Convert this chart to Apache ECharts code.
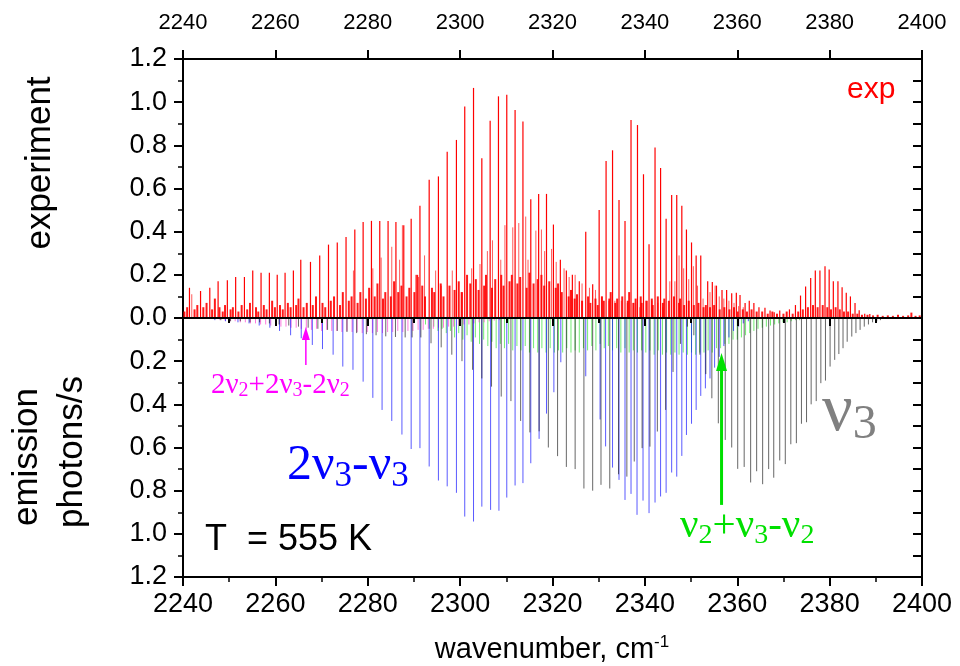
<!DOCTYPE html>
<html><head><meta charset="utf-8">
<script src="https://cdn.jsdelivr.net/npm/echarts@6/dist/echarts.min.js"></script>
<style>html,body{margin:0;padding:0;background:#fff}#main{width:960px;height:666px}</style>
</head><body><div id="main"></div>
<script>
// ---------- data (wavenumber cm^-1, intensity) ----------
const expStrong = [[2241.4,0.14],[2243.8,0.125],[2245.8,0.14],[2247.6,0.17],[2249.6,0.175],[2251.4,0.19],[2253.3,0.19],[2255.1,0.22],[2256.9,0.21],[2258.7,0.21],[2260.4,0.20],[2262.1,0.21],[2263.9,0.22],[2265.5,0.27],[2267.6,0.26],[2269.6,0.29],[2271.5,0.34],[2273.4,0.35],[2275.3,0.375],[2277.2,0.41],[2279.0,0.445],[2280.8,0.45],[2282.6,0.45],[2284.4,0.45],[2286.1,0.445],[2287.8,0.43],[2289.4,0.46],[2291.3,0.52],[2293.3,0.64],[2295.3,0.656],[2297.2,0.77],[2299.2,0.825],[2301.0,0.98],[2302.9,1.066],[2304.7,0.74],[2306.5,0.914],[2308.3,1.027],[2310.1,1.034],[2311.9,0.964],[2313.6,0.91],[2315.3,0.55],[2317.0,0.575],[2318.7,0.575],[2320.2,0.433],[2321.7,0.27],[2323.0,0.22],[2324.3,0.20],[2325.8,0.17],[2327.2,0.40],[2328.7,0.156],[2330.1,0.50],[2331.6,0.727],[2333.0,0.777],[2334.4,0.547],[2335.7,0.45],[2337.0,0.917],[2338.4,0.894],[2339.7,0.666],[2340.9,0.342],[2342.2,0.79],[2343.4,0.695],[2344.6,0.46],[2345.8,0.57],[2346.9,0.57],[2348.0,0.52],[2349.0,0.41],[2350.1,0.35],[2351.1,0.29],[2352.1,0.29],[2353.6,0.17],[2354.6,0.167],[2355.5,0.15],[2356.7,0.13],[2357.7,0.13],[2358.8,0.115],[2359.8,0.117],[2360.6,0.107],[2361.7,0.07],[2362.6,0.08],[2363.6,0.07],[2364.7,0.05],[2366.0,0.048],[2367.1,0.035],[2368.0,0.027],[2369.2,0.035],[2371.3,0.04],[2372.6,0.06],[2373.7,0.104],[2374.8,0.146],[2375.9,0.185],[2376.9,0.22],[2377.9,0.22],[2379.0,0.24],[2379.9,0.225],[2380.8,0.17],[2381.8,0.17],[2382.7,0.143],[2383.6,0.117],[2384.5,0.10],[2385.5,0.07],[2386.4,0.036],[2387.6,0.02],[2388.7,0.018]];

const expWeak = [[2241.9,0.11],[2276.9,0.22],[2281.1,0.23],[2282.9,0.28],[2285.2,0.33],[2286.9,0.27],[2287.5,0.43],[2290.4,0.2],[2291.0,0.19],[2292.3,0.29],[2294.7,0.22],[2295.9,0.15],[2298.3,0.22],[2300.2,0.12],[2302.5,0.23],[2304.3,0.25],[2305.9,0.31],[2307.0,0.36],[2308.8,0.27],[2309.7,0.43],[2311.4,0.42],[2312.7,0.44],[2314.2,0.47],[2314.7,0.27],[2316.4,0.405],[2317.6,0.41],[2318.3,0.31],[2319.8,0.32],[2320.8,0.26],[2322.5,0.23],[2323.6,0.19],[2324.9,0.2],[2326.4,0.16],[2328.0,0.14],[2329.3,0.13],[2330.7,0.1],[2332.2,0.08],[2333.5,0.08],[2334.9,0.08],[2336.2,0.07],[2337.6,0.07],[2338.9,0.05],[2340.2,0.08],[2341.5,0.08],[2342.8,0.07],[2343.9,0.05],[2345.4,0.17],[2346.5,0.17],[2347.4,0.29],[2348.4,0.23],[2349.5,0.18],[2350.5,0.24],[2351.4,0.15],[2352.6,0.09],[2354.1,0.12],[2355.2,0.15],[2356.1,0.1],[2357.1,0.09],[2358.2,0.08],[2359.3,0.07],[2360.3,0.055],[2361.3,0.05]];

const expGrass = [[2240.3,0.03],[2240.9,0.05],[2242.5,0.04],[2243.1,0.06],[2244.4,0.05],[2245.1,0.07],[2246.3,0.04],[2246.9,0.09],[2247.9,0.05],[2248.6,0.03],[2249.1,0.06],[2250.3,0.04],[2250.8,0.05],[2252.0,0.03],[2252.7,0.06],[2253.9,0.04],[2254.5,0.07],[2255.8,0.05],[2256.3,0.03],[2257.5,0.06],[2258.1,0.04],[2259.3,0.08],[2259.9,0.05],[2261.0,0.06],[2261.6,0.04],[2262.7,0.07],[2263.3,0.05],[2264.5,0.06],[2265.0,0.09],[2266.1,0.05],[2266.8,0.07],[2268.1,0.06],[2268.8,0.1],[2270.2,0.07],[2270.8,0.05],[2272.0,0.08],[2272.7,0.1],[2274.0,0.06],[2274.6,0.12],[2275.9,0.08],[2276.5,0.1],[2277.8,0.07],[2278.4,0.12],[2279.6,0.09],[2280.3,0.14],[2281.5,0.1],[2282.1,0.16],[2283.3,0.09],[2283.8,0.12],[2285.0,0.1],[2285.7,0.17],[2286.6,0.12],[2287.3,0.15],[2288.4,0.1],[2289.0,0.14],[2290.1,0.12],[2290.7,0.2],[2291.8,0.15],[2292.4,0.1],[2293.9,0.14],[2294.4,0.12],[2295.8,0.16],[2296.4,0.1],[2297.7,0.15],[2298.8,0.13],[2299.7,0.17],[2300.4,0.12],[2301.5,0.2],[2302.2,0.16],[2303.4,0.18],[2304.0,0.13],[2305.2,0.15],[2305.6,0.2],[2306.9,0.14],[2307.6,0.18],[2308.9,0.2],[2309.4,0.15],[2310.7,0.17],[2311.2,0.2],[2312.4,0.16],[2313.0,0.19],[2314.4,0.14],[2315.0,0.21],[2315.9,0.16],[2316.8,0.18],[2317.6,0.2],[2318.2,0.15],[2319.3,0.17],[2320.7,0.14],[2321.2,0.16],[2322.0,0.12],[2323.5,0.1],[2324.0,0.13],[2324.8,0.09],[2325.3,0.11],[2326.4,0.08],[2327.7,0.1],[2328.2,0.07],[2329.3,0.09],[2329.8,0.06],[2330.7,0.1],[2331.1,0.08],[2332.3,0.09],[2332.6,0.12],[2333.6,0.07],[2334.0,0.09],[2335.1,0.1],[2336.3,0.08],[2336.6,0.12],[2337.5,0.07],[2338.0,0.09],[2339.1,0.1],[2339.3,0.07],[2340.4,0.08],[2341.5,0.09],[2341.7,0.06],[2342.8,0.1],[2343.9,0.07],[2344.2,0.09],[2345.2,0.08],[2346.3,0.1],[2347.4,0.07],[2347.6,0.09],[2348.5,0.06],[2349.5,0.08],[2350.6,0.06],[2351.6,0.07],[2352.7,0.05],[2353.2,0.06],[2354.1,0.05],[2355.0,0.06],[2356.2,0.04],[2357.2,0.05],[2358.3,0.04],[2359.3,0.05],[2360.1,0.03],[2361.2,0.04],[2362.1,0.03],[2363.1,0.04],[2364.2,0.03],[2365.4,0.03],[2366.6,0.02],[2367.6,0.03],[2368.6,0.02],[2370.0,0.02],[2370.7,0.03],[2372.0,0.02],[2373.2,0.03],[2374.2,0.04],[2375.3,0.05],[2376.4,0.06],[2377.4,0.05],[2378.5,0.06],[2379.5,0.05],[2380.3,0.04],[2381.3,0.05],[2382.2,0.04],[2383.1,0.03],[2384.0,0.03],[2385.0,0.02],[2386.0,0.02],[2387.0,0.015],[2388.2,0.015],[2389.4,0.012],[2390.4,0.015],[2391.5,0.01],[2392.6,0.012],[2393.7,0.01],[2394.8,0.015],[2395.9,0.01],[2397.0,0.012],[2397.7,0.025],[2398.6,0.01],[2399.5,0.012]];

// calculated emission (plotted downward)
const calcBlue = [[2246.9,0.01],[2249.2,0.015],[2251.9,0.02],[2254.3,0.025],[2256.5,0.035],[2258.8,0.045],[2260.9,0.06],[2263.3,0.08],[2265.6,0.094],[2268.0,0.125],[2270.2,0.144],[2272.5,0.17],[2274.6,0.225],[2276.8,0.24],[2279.0,0.295],[2281.1,0.37],[2283.1,0.426],[2285.2,0.477],[2287.4,0.54],[2289.4,0.607],[2291.3,0.603],[2293.3,0.688],[2295.3,0.753],[2297.2,0.78],[2299.2,0.81],[2301.0,0.92],[2302.9,0.943],[2304.7,0.874],[2306.6,0.889],[2308.4,0.893],[2310.1,0.832],[2311.9,0.776],[2313.6,0.765],[2315.3,0.673],[2317.1,0.56],[2318.7,0.443],[2320.3,0.344],[2321.8,0.205],[2327.2,0.27],[2330.3,0.47],[2331.5,0.595],[2333.0,0.693],[2334.4,0.75],[2335.7,0.843],[2337.0,0.815],[2338.3,0.912],[2339.6,0.846],[2340.9,0.904],[2342.2,0.855],[2343.4,0.827],[2344.6,0.81],[2345.8,0.716],[2346.9,0.735],[2348.0,0.639],[2349.0,0.542],[2350.1,0.49],[2351.1,0.426],[2352.1,0.361],[2353.1,0.326],[2354.1,0.28],[2355.1,0.23],[2356.1,0.18],[2357.1,0.13],[2358.2,0.09],[2359.2,0.06],[2360.3,0.04],[2361.3,0.025],[2362.4,0.015]];

const calcBlack = [[2248.2,0.01],[2250.3,0.015],[2252.4,0.015],[2254.5,0.02],[2256.6,0.02],[2258.7,0.025],[2260.8,0.03],[2262.9,0.035],[2265.0,0.04],[2267.1,0.045],[2269.2,0.05],[2271.3,0.055],[2273.4,0.06],[2275.5,0.065],[2277.6,0.07],[2279.7,0.075],[2281.8,0.08],[2283.9,0.085],[2286.0,0.088],[2288.1,0.09],[2289.6,0.09],[2291.5,0.09],[2293.7,0.117],[2295.9,0.136],[2298.2,0.17],[2300.4,0.2],[2302.7,0.24],[2304.7,0.28],[2306.8,0.318],[2308.9,0.364],[2311.0,0.385],[2313.1,0.477],[2315.1,0.53],[2317.1,0.525],[2319.1,0.6],[2321.1,0.64],[2323.0,0.69],[2324.9,0.70],[2326.8,0.79],[2328.7,0.80],[2330.5,0.773],[2332.4,0.79],[2334.3,0.724],[2336.1,0.735],[2337.7,0.665],[2339.4,0.603],[2341.1,0.596],[2342.7,0.526],[2344.5,0.426],[2346.1,0.25],[2347.7,0.12],[2349.2,0.04],[2350.6,0.08],[2351.9,0.17],[2353.2,0.26],[2354.5,0.372],[2355.9,0.488],[2357.4,0.565],[2358.8,0.60],[2360.1,0.699],[2361.5,0.69],[2362.9,0.762],[2364.2,0.71],[2365.5,0.77],[2366.8,0.70],[2367.9,0.74],[2369.2,0.66],[2370.4,0.677],[2371.6,0.585],[2372.8,0.58],[2373.9,0.49],[2375.0,0.483],[2376.0,0.40],[2377.1,0.385],[2378.1,0.302],[2379.1,0.29],[2380.1,0.225],[2381.1,0.194],[2382.0,0.167],[2382.9,0.14],[2383.8,0.11],[2384.8,0.086],[2385.7,0.07],[2386.6,0.055],[2387.5,0.04],[2388.4,0.03],[2389.3,0.02],[2390.2,0.015],[2391.0,0.01]];

const calcGreen = [[2292.5,0.03],[2293.4,0.05],[2294.3,0.04],[2295.2,0.06],[2296.1,0.05],[2297.0,0.07],[2297.9,0.06],[2298.8,0.09],[2299.7,0.07],[2300.6,0.1],[2301.5,0.08],[2302.4,0.11],[2303.3,0.09],[2304.2,0.12],[2305.1,0.1],[2306.0,0.13],[2306.9,0.11],[2307.8,0.14],[2308.7,0.12],[2309.6,0.14],[2310.5,0.12],[2311.4,0.15],[2312.3,0.13],[2313.2,0.15],[2314.1,0.13],[2315.0,0.16],[2315.9,0.14],[2316.8,0.16],[2317.7,0.14],[2318.6,0.16],[2319.5,0.14],[2320.4,0.16],[2321.3,0.15],[2322.2,0.16],[2323.1,0.14],[2324.0,0.16],[2324.9,0.15],[2325.8,0.16],[2326.7,0.14],[2327.6,0.15],[2328.5,0.13],[2329.4,0.15],[2330.3,0.12],[2331.2,0.14],[2332.1,0.13],[2333.0,0.15],[2333.9,0.14],[2334.8,0.16],[2335.7,0.14],[2336.6,0.16],[2337.5,0.15],[2338.4,0.16],[2339.3,0.15],[2340.2,0.16],[2341.1,0.15],[2342.0,0.17],[2342.9,0.15],[2343.8,0.17],[2344.7,0.16],[2345.6,0.17],[2346.5,0.16],[2347.4,0.17],[2348.3,0.16],[2349.2,0.17],[2350.1,0.16],[2351.0,0.17],[2351.9,0.16],[2352.8,0.16],[2353.7,0.15],[2354.6,0.16],[2355.5,0.14],[2356.4,0.14],[2357.3,0.12],[2358.2,0.12],[2359.1,0.1],[2360.0,0.1],[2360.9,0.09],[2361.8,0.08],[2362.7,0.07],[2363.6,0.06],[2364.5,0.05],[2365.4,0.045],[2366.3,0.04],[2367.2,0.035],[2368.1,0.03],[2369.0,0.025],[2369.9,0.02],[2370.8,0.02],[2371.7,0.015],[2372.6,0.01],[2373.5,0.01]];

const calcMagenta = [[2248.0,0.01],[2249.1,0.012],[2250.2,0.015],[2251.3,0.015],[2252.4,0.02],[2253.5,0.02],[2254.6,0.025],[2255.7,0.025],[2256.8,0.03],[2257.9,0.03],[2259.0,0.035],[2260.1,0.035],[2261.2,0.04],[2262.3,0.04],[2263.4,0.045],[2264.5,0.045],[2265.6,0.05],[2266.7,0.05],[2267.8,0.055],[2268.9,0.05],[2270.0,0.06],[2271.1,0.055],[2272.2,0.06],[2273.3,0.06],[2274.4,0.065],[2275.5,0.06],[2276.6,0.065],[2277.7,0.065],[2278.8,0.07],[2279.9,0.065],[2281.0,0.07],[2282.1,0.065],[2283.2,0.07],[2284.3,0.065],[2285.4,0.065],[2286.5,0.06],[2287.6,0.065],[2288.7,0.06],[2289.8,0.06],[2290.9,0.055],[2292.0,0.055],[2293.1,0.05],[2294.2,0.05],[2295.3,0.045],[2296.4,0.045],[2297.5,0.04],[2298.6,0.04],[2299.7,0.035],[2300.8,0.03],[2301.9,0.03],[2303.0,0.025],[2304.1,0.02],[2305.2,0.02],[2306.3,0.015],[2307.4,0.012],[2308.5,0.01]];

// annotation arrows in data coordinates: [x, yTail, yTip]
const arrowMagenta = [2266.6, -0.218, -0.042];
const arrowGreen = [2356.6, -0.866, -0.162];

const xMin = 2240, xMax = 2400, xStep = 20;
const yMin = -1.2, yMax = 1.2, yStep = 0.2;

// ---------- chart ----------
const chart = echarts.init(document.getElementById('main'));
const down = arr => arr.map(d => [d[0], -d[1]]);
function stickSeries(name, data, color, opacity, z, lw) {
  return {
    type: 'custom', name, data, xAxisIndex: 0, yAxisIndex: 0, z, clip: true,
    encode: {x: 0, y: 1}, silent: true, animation: false,
    renderItem: function (params, api) {
      const x = api.value(0), y = api.value(1);
      const a = api.coord([x, 0]), b = api.coord([x, y]);
      return {type: 'line', shape: {x1: a[0], y1: a[1], x2: b[0], y2: b[1]},
        style: {stroke: color, lineWidth: lw, opacity: opacity}};
    }
  };
}
const axisLineStyle = {color: '#000', width: 2};
const fmtX = v => String(Math.round(v));
chart.setOption({
  animation: false,
  backgroundColor: '#fff',
  grid: {left: 183, right: 38, top: 59, bottom: 89, containLabel: false},
  xAxis: [
    {type: 'value', position: 'bottom', min: xMin, max: xMax, interval: xStep,
     axisLine: {onZero: false, lineStyle: axisLineStyle},
     axisTick: {show: true, inside: false, length: 9, lineStyle: {color: '#000', width: 2}},
     minorTick: {show: true, splitNumber: 2, length: 5, lineStyle: {color: '#000', width: 1.5}},
     axisLabel: {fontSize: 27, color: '#000', fontFamily: 'Liberation Sans', margin: 14, formatter: fmtX},
     splitLine: {show: false}, minorSplitLine: {show: false}},
    {type: 'value', position: 'top', min: xMin, max: xMax, interval: xStep,
     axisLine: {onZero: false, lineStyle: axisLineStyle},
     axisTick: {show: true, inside: false, length: 9, lineStyle: {color: '#000', width: 2}},
     axisLabel: {fontSize: 22, color: '#000', fontFamily: 'Liberation Sans', margin: 25, formatter: fmtX},
     splitLine: {show: false}},
    {type: 'value', position: 'bottom', min: xMin, max: xMax, interval: xStep, z: 10,
     axisLine: {onZero: true, onZeroAxisIndex: 0, lineStyle: axisLineStyle},
     axisTick: {show: true, inside: false, length: 8, lineStyle: {color: '#000', width: 2}},
     minorTick: {show: true, splitNumber: 2, length: 5, lineStyle: {color: '#000', width: 2}},
     axisLabel: {show: false}, splitLine: {show: false}}
  ],
  yAxis: [
    {type: 'value', position: 'left', min: yMin, max: yMax, interval: yStep,
     axisLine: {show: true, onZero: false, lineStyle: axisLineStyle},
     axisTick: {show: true, inside: false, length: 9, lineStyle: {color: '#000', width: 2}},
     minorTick: {show: true, splitNumber: 2, length: 5, lineStyle: {color: '#000', width: 1.5}},
     axisLabel: {fontSize: 27, color: '#000', fontFamily: 'Liberation Sans', margin: 16,
       formatter: v => Math.abs(v).toFixed(1)},
     splitLine: {show: false}},
    {type: 'value', position: 'right', min: yMin, max: yMax, interval: 0.1,
     axisLine: {show: true, onZero: false, lineStyle: axisLineStyle},
     axisTick: {show: true, inside: true, length: 9, lineStyle: {color: '#000', width: 2}},
     axisLabel: {show: false}, splitLine: {show: false}}
  ],
  series: [
    stickSeries('v2+v3-v2', down(calcGreen), '#00dd00', 0.55, 2, 1),
    stickSeries('2v2+2v3-2v2', down(calcMagenta), '#ff33cc', 0.65, 3, 1),
    stickSeries('2v3-v3', down(calcBlue), '#0000ff', 0.65, 4, 1),
    stickSeries('v3', down(calcBlack), '#000000', 0.6, 5, 1),
    stickSeries('exp grass', expGrass, '#ff0000', 0.9, 6, 2),
    stickSeries('exp weak', expWeak, '#ff0000', 0.65, 6, 1),
    stickSeries('exp', expStrong, '#ff0000', 1, 7, 1.2)
  ]
});

// ---------- annotations ----------
function arrow(spec, color, lw, headLen, headW) {
  const t = chart.convertToPixel({xAxisIndex: 0, yAxisIndex: 0}, [spec[0], spec[1]]);
  const h = chart.convertToPixel({xAxisIndex: 0, yAxisIndex: 0}, [spec[0], spec[2]]);
  return [
    {type: 'line', z: 20, shape: {x1: t[0], y1: t[1], x2: h[0], y2: h[1] + headLen - 1}, style: {stroke: color, lineWidth: lw}},
    {type: 'polygon', z: 20, shape: {points: [[h[0], h[1]], [h[0] - headW / 2, h[1] + headLen], [h[0] + headW / 2, h[1] + headLen]]}, style: {fill: color}}
  ];
}
const serif = 'Liberation Serif', sans = 'Liberation Sans';
function subText(x, y, txt, color, fs, sfs, L, sh) {
  return {type: 'text', z: 20, style: {x, y, text: txt, fill: color, fontFamily: serif, fontSize: fs,
    verticalAlign: 'top', align: 'left',
    rich: {m: {fontFamily: serif, fontSize: fs, fill: color, lineHeight: L},
           s: {fontFamily: serif, fontSize: sfs, fill: color, lineHeight: sh, verticalAlign: 'bottom'}}}};
}
const graphics = [].concat(
  arrow(arrowMagenta, '#ff00ff', 1.5, 13, 8),
  arrow(arrowGreen, '#00e000', 3, 18, 11),
  [
    subText(211, 369, '{m|2ν}{s|2}{m|+2ν}{s|3}{m|-2ν}{s|2}', '#ff00ff', 29, 20, 32, 16),
    subText(287, 438, '{m|2ν}{s|3}{m|-ν}{s|3}', '#0000ff', 50, 35, 56, 31),
    subText(822, 375, '{m|ν}{s|3}', '#808080', 68, 48, 74, 42),
    subText(680, 503, '{m|ν}{s|2}{m|+ν}{s|3}{m|-ν}{s|2}', '#00e000', 41, 28, 47, 23),
    {type: 'text', z: 20, style: {x: 205, y: 540, text: 'T  = 555 K', fill: '#000', fontFamily: sans, fontSize: 36, verticalAlign: 'middle', align: 'left'}},
    {type: 'text', z: 20, style: {x: 847, y: 90, text: 'exp', fill: '#ff0000', fontFamily: sans, fontSize: 30, verticalAlign: 'middle', align: 'left'}},
    {type: 'text', z: 20, style: {x: 552, y: 650, text: '{a|wavenumber, cm}{b|-1}', fill: '#000', fontFamily: sans, fontSize: 29, verticalAlign: 'middle', align: 'center',
      rich: {a: {fontFamily: sans, fontSize: 29, fill: '#000', lineHeight: 32}, b: {fontFamily: sans, fontSize: 17, fill: '#000', lineHeight: 16, verticalAlign: 'top'}}}},
    {type: 'text', z: 20, rotation: Math.PI / 2, x: 40, y: 163, style: {x: 0, y: 0, text: 'experiment', fill: '#000', fontFamily: sans, fontSize: 35, verticalAlign: 'middle', align: 'center'}},
    {type: 'text', z: 20, rotation: Math.PI / 2, x: 27, y: 457, style: {x: 0, y: 0, text: 'emission', fill: '#000', fontFamily: sans, fontSize: 35, verticalAlign: 'middle', align: 'center'}},
    {type: 'text', z: 20, rotation: Math.PI / 2, x: 72, y: 452, style: {x: 0, y: 0, text: 'photons/s', fill: '#000', fontFamily: sans, fontSize: 35, verticalAlign: 'middle', align: 'center'}}
  ]
);
chart.setOption({graphic: graphics});
</script></body></html>
